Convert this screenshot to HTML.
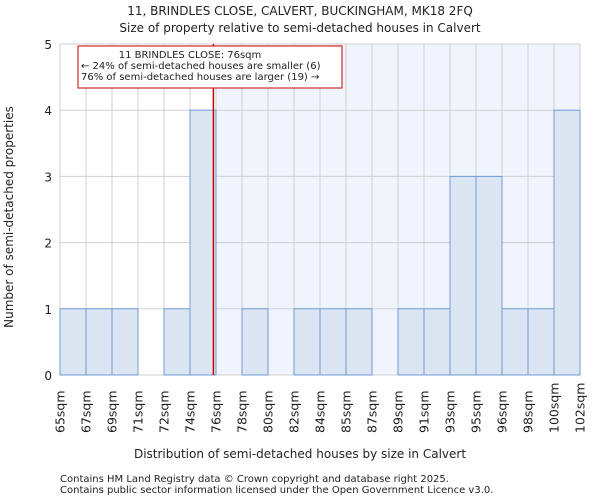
<!DOCTYPE html>
<html><head><meta charset="utf-8"><style>
body{margin:0;background:#fff;font-family:"DejaVu Sans","Liberation Sans",sans-serif;}
svg text{font-family:"DejaVu Sans","Liberation Sans",sans-serif;fill:#222;}
</style></head><body>
<svg id="chart" width="600" height="500">
<text x="300" y="15" text-anchor="middle" font-size="12">11, BRINDLES CLOSE, CALVERT, BUCKINGHAM, MK18 2FQ</text>
<text x="300" y="32" text-anchor="middle" font-size="12">Size of property relative to semi-detached houses in Calvert</text>
<g id="plot"></g>
<text x="300" y="458" text-anchor="middle" font-size="12">Distribution of semi-detached houses by size in Calvert</text>
<text transform="translate(13,217) rotate(-90)" text-anchor="middle" font-size="12">Number of semi-detached properties</text>
<text x="60" y="482" font-size="10">Contains HM Land Registry data © Crown copyright and database right 2025.</text>
<text x="60" y="493" font-size="10">Contains public sector information licensed under the Open Government Licence v3.0.</text>
</svg>
<script>
const binLabels=["65sqm","67sqm","69sqm","71sqm","72sqm","74sqm","76sqm","78sqm","80sqm","82sqm","84sqm","85sqm","87sqm","89sqm","91sqm","93sqm","95sqm","96sqm","98sqm","100sqm","102sqm"];
const counts=[1,1,1,0,1,4,0,1,0,1,1,1,0,1,1,3,3,1,1,4];
const yTicks=[0,1,2,3,4,5];
const subjectPos=5.9;
const highlightStart=6;
const X0=60,X1=580,Y0=375,Y1=44,YMAX=5;
const bw=(X1-X0)/counts.length;
const xs=i=>X0+i*bw;
const ys=v=>Y0-(v/YMAX)*(Y0-Y1);
const NS="http://www.w3.org/2000/svg";
const g=document.getElementById('plot');
function mk(t,a){const e=document.createElementNS(NS,t);for(const k in a)e.setAttribute(k,a[k]);g.appendChild(e);return e;}
let e=mk('rect',{x:xs(highlightStart),y:Y1,width:X1-xs(highlightStart),height:Y0-Y1,fill:'#f0f4fc'});


for(let i=0;i<=counts.length;i++){const l=mk('line',{x1:xs(i),x2:xs(i),y1:Y1,y2:Y0,stroke:'#d0d0d0','stroke-width':1});

}
yTicks.forEach(t=>{const l=mk('line',{x1:X0,x2:X1,y1:ys(t),y2:ys(t),stroke:'#d0d0d0','stroke-width':1});


const tx=mk('text',{x:X0-8,y:ys(t)+5,'text-anchor':'end','font-size':'12'});tx.textContent=t;

});
counts.forEach((c,i)=>{if(c<=0)return;const r=mk('rect',{x:xs(i),y:ys(c),width:bw,height:Y0-ys(c),fill:'#dce6f3',stroke:'#6f9bd6','stroke-width':1});

});
binLabels.forEach((lb,i)=>{const tx=mk('text',{transform:`translate(${xs(i)+4.5},${433}) rotate(-90)`,'font-size':'12.5'});tx.textContent=lb;

});
const rl=mk('line',{x1:xs(subjectPos),x2:xs(subjectPos),y1:Y1,y2:Y0,stroke:'#cc0000','stroke-width':1.5});


const box=mk('rect',{x:78,y:46,width:264,height:42,fill:'#fff',stroke:'#cc0000','stroke-width':1});


["11 BRINDLES CLOSE: 76sqm","← 24% of semi-detached houses are smaller (6)","76% of semi-detached houses are larger (19) →"].forEach((s,k)=>{
const tx=mk('text',{x:k==0?190:81,y:58+k*11,'text-anchor':k==0?'middle':'start','font-size':'10'});tx.textContent=s;

});
</script>
</body></html>
